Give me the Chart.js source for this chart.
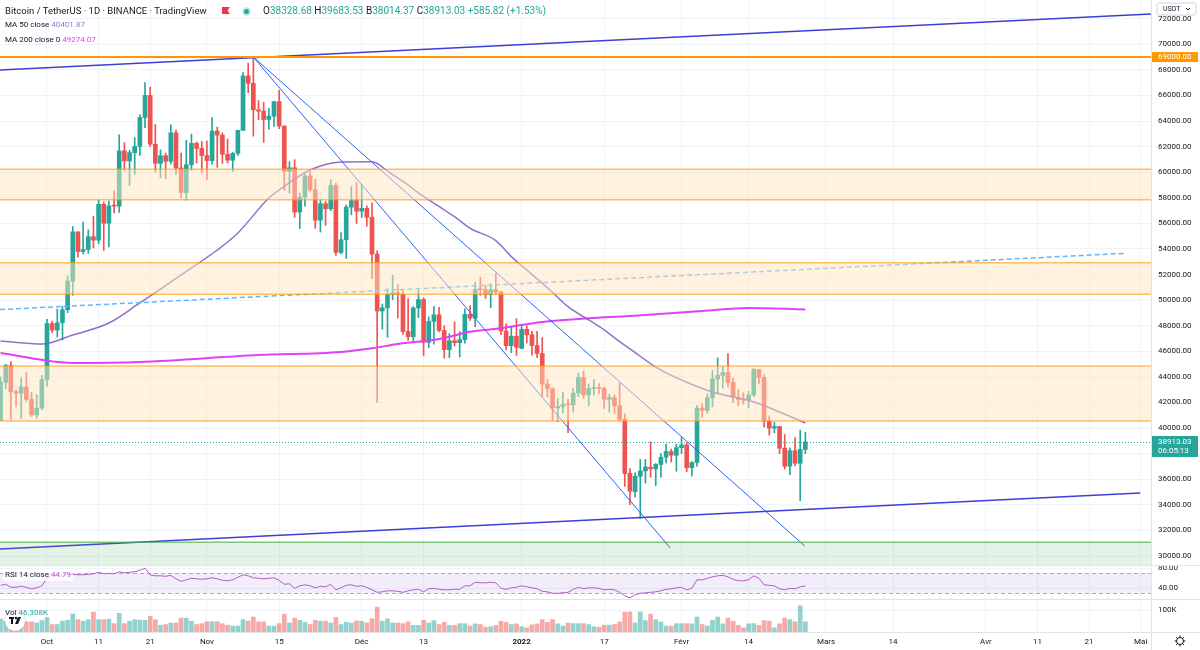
<!DOCTYPE html>
<html lang="fr">
<head>
<meta charset="utf-8">
<title>BTCUSDT 1D</title>
<script src="https://cdn.jsdelivr.net/npm/chart.js@4.4.1/dist/chart.umd.min.js"></script>
<style>
  html, body { margin: 0; padding: 0; background: #ffffff; }
  #wrap { position: relative; width: 1200px; height: 650px; overflow: hidden; font-family: Roboto, 'Liberation Sans', sans-serif; color: #131722; }
  #wrap canvas { position: absolute; left: 0; top: 0; }
  .row { position: absolute; white-space: nowrap; line-height: 12px; font-size: 8px; }
  .title { left: 5px; top: 5px; font-size: 9.5px; }
  .ohlc { left: 263px; top: 5px; font-size: 10px; }
  .up { color: #26a69a; }
  .ma50 { left: 5px; top: 19px; }
  .ma50 span { color: #9575cd; }
  .ma200 { left: 5px; top: 34px; }
  .ma200 span { color: #e040fb; }
  .rsi { left: 3px; top: 569px; padding: 0 2px; background: rgba(255,255,255,0.75); }
  .rsi span { color: #b45cc6; }
  .vol { left: 5px; top: 607px; }
  .vol span { color: #26a69a; }
  .flag { position: absolute; left: 222px; top: 7px; width: 8px; height: 7px; background: #f23645; clip-path: polygon(0 0, 100% 0, 70% 50%, 100% 100%, 0 100%); }
  .live { position: absolute; left: 242px; top: 7px; width: 9px; height: 9px; border-radius: 50%; background: rgba(38,166,154,0.25); }
  .live::after { content: ''; position: absolute; left: 2px; top: 2px; width: 5px; height: 5px; border-radius: 50%; background: #26a69a; }
</style>
</head>
<body>
<div id="wrap">
  <canvas id="btcChart" width="1200" height="650"></canvas>
  <div class="row title">Bitcoin / TetherUS · 1D · BINANCE · TradingView</div>
  <div class="flag"></div>
  <div class="live"></div>
  <div class="row ohlc">O<span class="up">38328.68</span> H<span class="up">39683.53</span> B<span class="up">38014.37</span> C<span class="up">38913.03</span> <span class="up">+585.82 (+1.53%)</span></div>
  <div class="row ma50">MA 50 close <span>40401.87</span></div>
  <div class="row ma200">MA 200 close 0 <span>49274.07</span></div>
  <div class="row rsi">RSI 14 close <span>44.79</span></div>
  <div class="row vol">Vol <span>46.308K</span></div>
</div>
<script>
// day 0 = 1 Oct 2021, first candle = 22 Sept 2021
const firstDay = -9;

const opens = [40590,43580,44900,42840,42720,43210,42240,41030,41560,
  43790,48170,47660,48230,49250,51490,55340,53800,53960,54960,54690,57490,56010,57370,57350,61670,60880,61530,62010,64280,66000,62190,60690,61290,60850,63080,60330,58410,60580,62250,61860,
  61300,60910,63220,62900,61400,60940,61470,63270,67530,66950,64880,64770,64120,64380,65520,63610,60060,60350,56890,58050,59710,58620,56250,57540,57140,58960,53730,54720,57270,57780,
  56950,57180,56480,53600,49150,49400,50440,50590,50470,47550,47140,49390,50050,46700,48340,48860,47630,46130,46830,46680,46910,48890,48590,50840,50820,50430,50810,50640,47590,46440,47180,
  46220,47720,47290,46450,45830,43430,43080,41570,41680,41860,41820,42740,43950,42590,43100,43180,43110,42250,42380,41740,40700,36470,35030,36230,36650,36950,36810,37160,37720,38170,37880,
  38470,38690,36900,37310,41570,41380,42380,43840,44120,44340,43570,42410,42240,42200,42590,44580,43960,40540,40000,40120,38430,37020,38230,37250,38330];
const highs = [44000,44980,45200,42970,43950,44350,42790,42630,44130,
  48500,48360,49300,49530,51890,55750,55340,56100,55490,56560,57840,57680,57740,58530,62930,62320,61720,62700,64490,67000,66640,63730,61750,61500,63710,63290,61500,62500,62980,62360,62410,
  62440,64270,63520,63090,62600,61560,63290,67790,68520,69000,65600,65460,64990,65550,66400,63620,60820,60980,58370,59850,60030,59440,57880,57740,59400,59150,55280,57450,58870,59180,
  59050,57380,57600,53860,49700,50890,51940,51200,50800,50130,49490,50800,50190,48700,49500,49440,48000,47390,48300,47540,49330,49580,51380,51810,51160,51280,52090,50700,48150,47900,48550,
  47950,47990,47570,47560,47070,43820,43150,42300,42790,42250,43100,44320,44460,43450,43800,43480,43180,42660,42600,43510,41100,36840,36500,37550,37550,38920,37230,38000,38720,38360,38740,
  39270,38860,37390,41770,41910,42660,44500,45490,44800,45820,43920,43000,42760,42880,44670,44580,44160,40960,40440,40130,39490,38450,39250,39840,39680];
const lows = [40570,43070,40680,41650,40750,42100,40900,40750,41410,
  43280,47450,47120,46890,49020,50380,53360,53620,53660,54080,54420,53880,54170,56820,56850,60150,58960,59840,61320,63480,62000,60000,59560,59510,60650,59820,58000,57820,60170,60720,59950,
  59410,60620,60380,60680,60720,60050,61320,63270,66220,62820,64100,62330,63360,63580,63400,58580,58370,56470,55600,57350,58490,55610,55320,55840,57000,53500,53610,53260,56670,56000,
  56460,55780,51680,42000,47730,47100,50040,48600,47320,46850,46750,48640,45670,46290,46550,47510,45460,45500,46410,45560,46630,48420,47920,50380,50140,49410,50450,47310,46100,45900,45680,
  46210,46650,45700,45500,42500,42430,40610,40500,41200,39650,41270,42450,42310,41730,42580,42690,41540,41250,41140,40550,35440,34010,34600,32920,35700,36150,35510,36160,37270,37350,36630,
  38000,36590,36250,37030,40840,41120,41650,42670,43120,43190,42000,41750,41870,41570,42430,43460,40070,39450,39640,38000,36800,36350,37040,34320,38010];
const closes = [43580,44900,42840,42720,43210,42240,41030,41560,43790,
  48170,47660,48230,49250,51490,55340,53800,53960,54960,54690,57490,56010,57370,57350,61670,60880,61530,62010,64280,66000,62190,60690,61290,60850,63080,60330,58410,60580,62250,61860,61300,
  60910,63220,62900,61400,60940,61470,63270,67530,66950,64880,64770,64120,64380,65520,63610,60060,60350,56890,58050,59710,58620,56250,57540,57140,58960,53730,54720,57270,57780,56950,
  57180,56480,53600,49150,49400,50440,50590,50470,47550,47140,49390,50050,46700,48340,48860,47630,46130,46830,46680,46910,48890,48590,50840,50820,50430,50810,50640,47590,46440,47180,46310,
  47720,47290,46450,45830,43430,43080,41570,41680,41860,41820,42740,43950,42590,43100,43180,43110,42250,42380,41740,40680,36450,35070,36240,36660,36960,36810,37160,37720,38170,37880,38470,
  38690,36900,37310,41570,41380,42380,43840,44120,44340,43570,42410,42240,42200,42590,44580,43960,40540,40000,40120,38430,37020,38230,37250,38330,38913.03];
// volume, thousands of BTC
const volumes = [59,49,49,27,49,46,46,41,52,
  66,34,34,49,53,82,56,49,56,90,56,56,59,38,85,38,49,56,54,53,71,56,31,34,41,41,63,63,49,34,
  38,47,47,47,38,31,27,27,56,49,68,46,46,27,27,38,81,41,63,53,44,34,53,49,49,41,66,34,44,41,
  50,49,41,60,113,49,60,41,41,38,46,30,30,53,41,52,34,44,30,30,38,38,27,37,34,22,24,30,49,44,
  34,37,24,19,33,37,56,44,56,37,27,41,38,38,38,34,24,22,31,31,34,46,90,91,41,91,52,81,56,46,
  27,27,38,38,38,37,68,34,27,53,68,37,63,49,30,19,37,38,30,52,49,19,37,63,56,46,119,46.3];
const rsiValues = [46,48,42,42,44,42,39,41,45,
  60,66,67,67,67,68,67,67,68,69,72,69,70,69,73,71,72,73,76,80,67,65,65,64,66,59,54,57,60,59,
  58,59,61,59,56,55,57,62,67,65,61,60,59,60,61,56,48,49,40,45,47,45,41,44,43,48,37,41,46,47,
  44,45,42,37,32,33,35,35,34,32,35,37,38,33,39,40,38,37,37,38,38,45,45,52,51,51,52,51,40,
  38,41,42,45,43,41,39,34,33,30,30,31,32,38,42,39,41,41,40,37,38,37,32,25,21,27,30,31,32,33,
  35,38,39,41,42,37,40,57,57,60,63,65,66,63,58,55,55,57,65,60,47,46,45,39,37,40,39,43,44.8];

// moving averages
const ma50Days = [-9,-1,5,12,18,26,33,37,43,45,51,57,63,66.5,70,72,75.5,79,82,87,90,93,97.5,101,105,108,111,113,118,123,129,137,142,147];
const ma50Vals = [46810,46570,47280,48210,49780,51970,53920,55250,57990,58610,60170,60800,60820,59940,59000,58380,57440,56520,55620,54650,53400,52360,50790,49490,48450,47670,46750,46200,44770,43760,42820,42040,41260,40400];
const ma200Days = [-9,5,18,41,57,63,68,76,82,88,96,105,113,127,136,147];
const ma200Vals = [45870,45090,45170,45710,45950,46240,46570,46960,47530,47800,48300,48580,48760,49150,49390,49270];

// drawings: [day, price]
const channelTop = [[-9.11, 67990], [214, 72370]];
const channelBottom = [[-9.11, 30550], [211.9, 34920]];
const downLineA = [[40, 69000], [120.8, 30630]];
const downLineB = [[40, 69000], [146.9, 30780]];
const dashedLine = [[-9.11, 49260], [209, 53660]];
const zones = [[57850, 60230], [50470, 52930], [40550, 44850]];
const greenZone = [29000, 31070];
const athLevel = 69000;
const lastPrice = 38913.03;

const tickDays = [0,10,20,31,45,61,73,92,108,123,136,151,164,182,192,202,212];
const tickLabels = ['Oct','11','21','Nov','15','Déc','13','2022','17','Févr','14','Mars','14','Avr','11','21','Mai'];
const priceTicks = [30000,32000,34000,36000,38000,40000,42000,44000,46000,48000,50000,52000,54000,56000,58000,60000,62000,64000,66000,68000,70000,72000];
const rsiTicks = [40, 80];
const volTicks = [100];

const UP = '#26a69a', DOWN = '#ef5350';
const candleColors = closes.map((c, i) => c >= opens[i] ? UP : DOWN);
const volColors = closes.map((c, i) => c >= opens[i] ? 'rgba(38,166,154,0.5)' : 'rgba(239,83,80,0.5)');
const dayOf = i => firstDay + i;
const toPts = arr => arr.map(p => ({ x: p[0], y: p[1] }));

Chart.defaults.font.family = "Roboto, 'Liberation Sans', sans-serif";
Chart.defaults.font.size = 8;
Chart.defaults.color = '#131722';

const panesPlugin = {
    id: 'panes',
    beforeDraw(chart) {
        const ctx = chart.ctx;
        ctx.save();
        ctx.fillStyle = '#ffffff';
        ctx.fillRect(0, 0, chart.width, chart.height);
        ctx.restore();
    },
    beforeDatasetsDraw(chart) {
        const { ctx, chartArea: a, scales: { rsi } } = chart;
        const t = rsi.getPixelForValue(70), b = rsi.getPixelForValue(30);
        ctx.save();
        ctx.fillStyle = 'rgba(126,87,194,0.1)';
        ctx.fillRect(a.left, t, a.right - a.left, b - t);
        ctx.strokeStyle = 'rgba(120,123,134,0.6)';
        ctx.setLineDash([4, 3]);
        ctx.lineWidth = 1;
        [t, b].forEach(v => {
            ctx.beginPath(); ctx.moveTo(a.left, Math.round(v) + 0.5); ctx.lineTo(a.right, Math.round(v) + 0.5); ctx.stroke();
        });
        ctx.restore();
    },
    afterDatasetsDraw(chart) {
        const { ctx, chartArea: a, scales: { y } } = chart;
        ctx.save();
        ctx.beginPath();
        ctx.rect(a.left, y.top, a.right - a.left, y.bottom - y.top);
        ctx.clip();
        // zones over candles
        zones.forEach(z => {
            const t = y.getPixelForValue(z[1]), b = y.getPixelForValue(z[0]);
            ctx.fillStyle = 'rgba(255,230,190,0.5)';
            ctx.fillRect(a.left, t, a.right - a.left, b - t);
            ctx.strokeStyle = 'rgba(255,152,0,0.6)';
            ctx.lineWidth = 1.5;
            [t, b].forEach(v => { ctx.beginPath(); ctx.moveTo(a.left, v); ctx.lineTo(a.right, v); ctx.stroke(); });
        });
        const gt = y.getPixelForValue(greenZone[1]), gb = y.getPixelForValue(greenZone[0]);
        ctx.fillStyle = 'rgba(76,175,80,0.15)';
        ctx.fillRect(a.left, gt, a.right - a.left, gb - gt);
        ctx.strokeStyle = 'rgba(76,175,80,0.7)';
        ctx.lineWidth = 1.5;
        ctx.beginPath(); ctx.moveTo(a.left, gt); ctx.lineTo(a.right, gt); ctx.stroke();
        // ATH level
        const ay = y.getPixelForValue(athLevel);
        ctx.strokeStyle = '#ff9800';
        ctx.lineWidth = 2;
        ctx.beginPath(); ctx.moveTo(a.left, ay); ctx.lineTo(a.right, ay); ctx.stroke();
        // last price
        const ly = Math.round(y.getPixelForValue(lastPrice)) + 0.5;
        ctx.strokeStyle = UP;
        ctx.lineWidth = 1;
        ctx.setLineDash([1, 2]);
        ctx.beginPath(); ctx.moveTo(a.left, ly); ctx.lineTo(a.right, ly); ctx.stroke();
        ctx.restore();
    },
    afterDraw(chart) {
        const { ctx, scales: { y, rsi, vol } } = chart;
        const W = chart.width, H = chart.height;
        ctx.save();
        ctx.strokeStyle = '#e0e3eb';
        ctx.lineWidth = 1;
        [y.bottom, rsi.bottom, vol.bottom].forEach(v => {
            ctx.beginPath(); ctx.moveTo(0, Math.round(v) + 0.5); ctx.lineTo(W, Math.round(v) + 0.5); ctx.stroke();
        });
        ctx.beginPath(); ctx.moveTo(Math.round(y.left) + 0.5, 0); ctx.lineTo(Math.round(y.left) + 0.5, H); ctx.stroke();

        ctx.font = "8px Roboto, 'Liberation Sans', sans-serif";
        ctx.textBaseline = 'middle';
        ctx.textAlign = 'left';
        // ATH tag
        const ay = y.getPixelForValue(athLevel);
        ctx.fillStyle = '#ff9800';
        ctx.fillRect(y.left + 1, ay - 5, 46, 10);
        ctx.fillStyle = '#ffffff';
        ctx.fillText(athLevel.toFixed(2), y.left + 7, ay);
        // last price tag
        const ly = y.getPixelForValue(lastPrice);
        ctx.fillStyle = UP;
        ctx.fillRect(y.left + 1, ly - 6, 46, 21);
        ctx.fillStyle = '#ffffff';
        ctx.fillText(lastPrice.toFixed(2), y.left + 7, ly);
        ctx.fillText('06:05:13', y.left + 7, ly + 9);
        // USDT button
        ctx.strokeStyle = '#d1d4dc';
        ctx.fillStyle = '#ffffff';
        ctx.beginPath();
        ctx.roundRect(1157, 3, 39, 12, 2);
        ctx.fill(); ctx.stroke();
        ctx.fillStyle = '#131722';
        ctx.font = "7px Roboto, 'Liberation Sans', sans-serif";
        ctx.fillText('USDT', 1163, 9.5);
        ctx.strokeStyle = '#131722';
        ctx.beginPath(); ctx.moveTo(1186, 8); ctx.lineTo(1188, 10); ctx.lineTo(1190, 8); ctx.stroke();
        // gear
        const gx = 1180, gy = 641;
        ctx.strokeStyle = '#131722';
        ctx.lineWidth = 1;
        ctx.beginPath(); ctx.arc(gx, gy, 3.5, 0, Math.PI * 2); ctx.stroke();
        for (let k = 0; k < 8; k++) {
            const ang = k * Math.PI / 4;
            ctx.beginPath();
            ctx.moveTo(gx + Math.cos(ang) * 3.5, gy + Math.sin(ang) * 3.5);
            ctx.lineTo(gx + Math.cos(ang) * 5.5, gy + Math.sin(ang) * 5.5);
            ctx.stroke();
        }
        // logo badge
        ctx.shadowColor = 'rgba(0,0,0,0.2)';
        ctx.shadowBlur = 3;
        ctx.fillStyle = '#ffffff';
        ctx.beginPath(); ctx.arc(15, 621, 10, 0, Math.PI * 2); ctx.fill();
        ctx.shadowBlur = 0;
        ctx.fillStyle = '#131722';
        ctx.fillRect(9, 617, 5, 2);
        ctx.fillRect(11, 617, 2, 7);
        ctx.beginPath(); ctx.arc(16, 618, 1.3, 0, Math.PI * 2); ctx.fill();
        ctx.beginPath(); ctx.moveTo(15, 624); ctx.lineTo(18, 617); ctx.lineTo(21, 617); ctx.lineTo(18, 624); ctx.closePath(); ctx.fill();
        ctx.restore();
    }
};

const lineDs = (pts, color, width, order, extra) => Object.assign({
    type: 'line',
    yAxisID: 'y',
    data: pts,
    borderColor: color,
    borderWidth: width,
    pointRadius: 0,
    order: order
}, extra || {});

// stacked right-hand axes: no label overflow padding
const fitRight = s => { s.width = 49; s.paddingTop = 0; s.paddingBottom = 0; };

new Chart(document.getElementById('btcChart').getContext('2d'), {
    type: 'bar',
    data: {
        datasets: [
            {
                label: 'Wicks',
                yAxisID: 'y',
                data: highs.map((h, i) => ({ x: dayOf(i), y: [lows[i], h] })),
                backgroundColor: candleColors,
                barThickness: 1,
                grouped: false,
                order: 10
            },
            {
                label: 'Bodies',
                yAxisID: 'y',
                data: opens.map((o, i) => ({ x: dayOf(i), y: [o, closes[i]] })),
                backgroundColor: candleColors,
                barThickness: 4,
                minBarLength: 1,
                grouped: false,
                order: 9
            },
            {
                label: 'Volume',
                yAxisID: 'vol',
                data: volumes.map((v, i) => ({ x: dayOf(i), y: v })),
                backgroundColor: volColors,
                barThickness: 4,
                grouped: false,
                order: 8
            },
            lineDs(ma200Days.map((d, i) => ({ x: d, y: ma200Vals[i] })), '#e040fb', 2, 6, { cubicInterpolationMode: 'monotone' }),
            lineDs(ma50Days.map((d, i) => ({ x: d, y: ma50Vals[i] })), 'rgba(126,87,194,0.85)', 1.5, 5, { cubicInterpolationMode: 'monotone' }),
            lineDs(toPts(channelTop), '#3d3dd9', 1.5, 3),
            lineDs(toPts(channelBottom), '#3d3dd9', 1.5, 3),
            lineDs(toPts(downLineA), '#2962ff', 1, 3),
            lineDs(toPts(downLineB), '#2962ff', 1, 3),
            lineDs(toPts(dashedLine), '#64b5f6', 1.5, 3, { borderDash: [5, 3] }),
            {
                type: 'line',
                label: 'RSI',
                yAxisID: 'rsi',
                data: rsiValues.map((v, i) => ({ x: dayOf(i), y: v })),
                borderColor: '#b45cc6',
                borderWidth: 1,
                pointRadius: 0,
                order: 1
            }
        ]
    },
    options: {
        responsive: false,
        animation: false,
        layout: { padding: 0 },
        plugins: { legend: { display: false }, tooltip: { enabled: false } },
        scales: {
            x: {
                type: 'linear',
                position: 'bottom',
                min: -9.11,
                max: 214,
                offset: false,
                afterFit: s => { s.height = 18; s.paddingLeft = 0; s.paddingRight = 0; },
                afterBuildTicks: s => { s.ticks = tickDays.map(v => ({ value: v })); },
                grid: { color: '#f0f3fa', drawTicks: false, offset: false },
                border: { display: false },
                ticks: {
                    autoSkip: false,
                    maxRotation: 0,
                    padding: 5,
                    color: '#131722',
                    font: c => ({ size: 8, weight: c.tick && c.tick.value === 92 ? 'bold' : 'normal' }),
                    callback: v => { const i = tickDays.indexOf(v); return i >= 0 ? tickLabels[i] : ''; }
                }
            },
            y: {
                type: 'linear',
                position: 'right',
                stack: 'panes',
                stackWeight: 565,
                min: 29297,
                max: 73462,
                afterFit: fitRight,
                afterBuildTicks: s => { s.ticks = priceTicks.map(v => ({ value: v })); },
                grid: { color: '#f0f3fa', drawTicks: false },
                border: { display: false },
                ticks: { autoSkip: false, padding: 7, callback: v => v.toFixed(2) }
            },
            rsi: {
                type: 'linear',
                position: 'right',
                stack: 'panes',
                stackWeight: 34,
                min: 18.6,
                max: 86.6,
                afterFit: fitRight,
                afterBuildTicks: s => { s.ticks = rsiTicks.map(v => ({ value: v })); },
                grid: { color: '#f0f3fa', drawTicks: false },
                border: { display: false },
                ticks: { autoSkip: false, padding: 7, callback: v => v.toFixed(2) }
            },
            vol: {
                type: 'linear',
                position: 'right',
                stack: 'panes',
                stackWeight: 33,
                min: 0,
                max: 150,
                afterFit: fitRight,
                afterBuildTicks: s => { s.ticks = volTicks.map(v => ({ value: v })); },
                grid: { color: '#f0f3fa', drawTicks: false },
                border: { display: false },
                ticks: { autoSkip: false, padding: 7, callback: v => v + 'K' }
            }
        }
    },
    plugins: [panesPlugin]
});
</script>
</body>
</html>
